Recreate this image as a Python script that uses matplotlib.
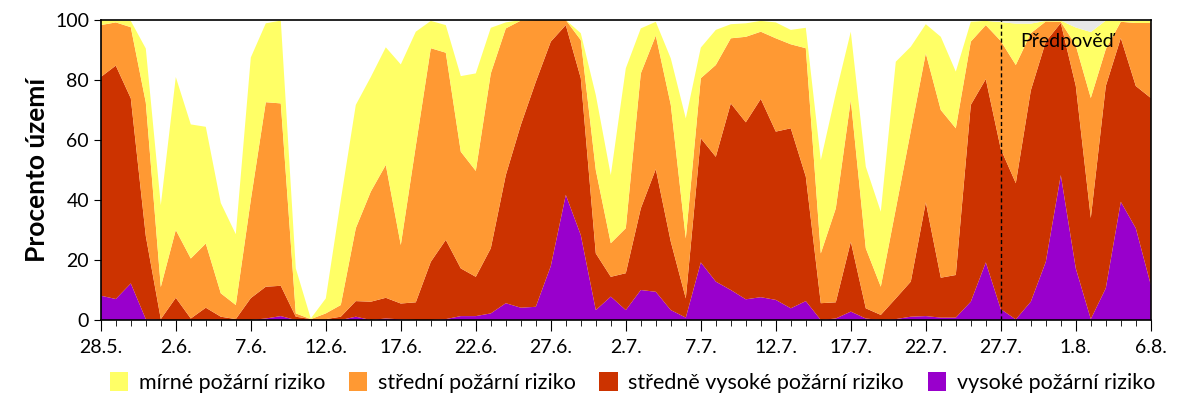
import numpy as np
import matplotlib
matplotlib.use("Agg")
import matplotlib.pyplot as plt
from matplotlib.ticker import MultipleLocator

plt.rcParams['font.family'] = ['Lato', 'DejaVu Sans']

# daily share of territory (%) per fire-risk class, 28.5. - 6.8.
vysoke = [8.1, 7.0, 12.2, 0.3, 0, 0, 0, 0, 0, 0,
          0, 0.5, 1.3, 0, 0, 0, 0, 1.1, 0, 0.5,
          0.2, 0, 0, 0.3, 1.3, 1.3, 2.2, 5.6, 4.1, 4.4,
          18.0, 41.7, 28.3, 3.3, 7.8, 3.3, 10.0, 9.4, 3.3, 0.8,
          19.2, 12.8, 10.0, 6.9, 7.6, 6.7, 3.9, 6.3, 0, 0.5,
          2.8, 0.5, 0, 0.3, 1.1, 1.3, 0.8, 0.8, 6.1, 19.2,
          3.6, 0.2, 6.1, 19.4, 48.3, 17.2, 0.3, 10.6, 39.4, 30.6,
          11.7]
stredne_vysoke = [72.9, 77.8, 61.7, 27.7, 0.3, 7.4, 0.5, 4.1, 1.1, 0.3,
                  7.3, 10.6, 10.1, 1.1, 0.3, 0.3, 1.1, 5.2, 6.1, 6.9,
                  5.3, 5.9, 19.4, 26.4, 15.9, 13.1, 21.7, 42.7, 60.9, 75.0,
                  74.8, 56.6, 52.3, 18.9, 6.6, 12.3, 27.2, 40.9, 22.8, 6.4,
                  41.4, 41.6, 62.2, 59.0, 66.1, 56.1, 60.0, 41.5, 5.6, 5.4,
                  23.3, 3.4, 1.7, 6.9, 11.7, 37.9, 13.3, 14.2, 65.6, 61.1,
                  53.4, 45.4, 70.4, 73.4, 50.7, 60.8, 33.7, 67.4, 54.6, 47.4,
                  62.3]
stredni = [17.3, 14.4, 23.7, 44.5, 10.7, 22.6, 20.0, 21.4, 7.8, 4.7,
           32.7, 61.5, 60.8, 1.1, 0, 1.9, 3.9, 24.3, 36.7, 44.3,
           19.5, 52.1, 71.2, 62.4, 38.9, 35.3, 58.3, 48.9, 34.8, 20.6,
           7.2, 1.7, 12.7, 27.8, 11.2, 15.0, 45.0, 44.5, 45.6, 20.0,
           20.0, 30.6, 21.7, 28.5, 22.4, 31.1, 28.0, 42.8, 16.6, 31.3,
           47.2, 20.0, 9.4, 29.8, 50.2, 49.7, 55.9, 48.9, 21.1, 18.0,
           36.0, 39.4, 19.1, 6.7, 0.4, 13.5, 40.0, 12.3, 5.4, 21.0,
           25.0]
mirne = [1.7, 0.6, 2.1, 18.0, 27.3, 51.0, 44.7, 38.9, 30.1, 23.6,
         47.5, 26.3, 27.6, 15.0, 0.2, 5.0, 35.0, 41.1, 38.2, 39.2,
         60.2, 38.1, 9.1, 9.2, 25.2, 32.5, 15.2, 2.0, 0.2, 0,
         0, 0, 2.3, 25.0, 22.7, 53.3, 15.0, 4.6, 15.5, 40.0,
         10.2, 11.7, 4.7, 4.5, 3.6, 5.3, 4.8, 6.8, 31.1, 38.3,
         22.8, 27.2, 25.0, 49.1, 28.1, 9.7, 24.4, 18.9, 6.6, 1.4,
         6.3, 13.8, 3.2, 0.2, 0.4, 6.0, 22.0, 9.5, 0.4, 0.8,
         0.7]
# forecast part: share without class (grey)
bez_udaju = [0] * 60 + [0.7, 1.2, 1.2, 0.3, 0.2, 2.5, 4.0, 0.2, 0.2, 0.2, 0.3]

tick_labels = ["28.5.", "2.6.", "7.6.", "12.6.", "17.6.", "22.6.", "27.6.", "2.7.",
               "7.7.", "12.7.", "17.7.", "22.7.", "27.7.", "1.8.", "6.8."]
names = ["vysoké požární riziko", "středně vysoké požární riziko",
         "střední požární riziko", "mírné požární riziko"]
colors = ["#9900CC", "#CC3300", "#FF9933", "#FFFF66", "#E8E8E8"]
forecast_start = 60

days = np.arange(len(vysoke))

fig = plt.figure(figsize=(12, 4), dpi=100)
ax = fig.add_axes([0.084, 0.2, 0.875, 0.75])

polys = ax.stackplot(days, vysoke, stredne_vysoke, stredni, mirne, bez_udaju,
                     colors=colors, linewidth=0)

ax.axvline(forecast_start, color="black", linestyle=(0, (3, 2)), linewidth=1)
ax.text(forecast_start + 1.3, 93, "Předpověď", fontsize=14, va="center")

ax.set_xlim(0, len(days) - 1)
ax.set_ylim(0, 100)
ax.set_xticks(np.arange(0, len(days), 5))
ax.set_xticklabels(tick_labels, fontsize=14)
ax.xaxis.set_minor_locator(MultipleLocator(1))
ax.set_yticks(np.arange(0, 101, 20))
ax.tick_params(axis="y", labelsize=14, length=5, direction="out")
ax.tick_params(axis="x", which="major", length=8, direction="out", pad=6)
ax.tick_params(axis="x", which="minor", length=4, direction="out")
ax.set_ylabel("Procento území", fontsize=19, fontweight="bold", labelpad=4)
for s in ax.spines.values():
    s.set_linewidth(1.2)

handles = polys[:4][::-1]
fig.legend(handles, names[::-1], loc="center", bbox_to_anchor=(0.527, 0.043),
           ncol=4, frameon=False, fontsize=15.5, handlelength=0.85, handleheight=0.95,
           handletextpad=0.5, columnspacing=1.1)

fig.savefig("out.png")
